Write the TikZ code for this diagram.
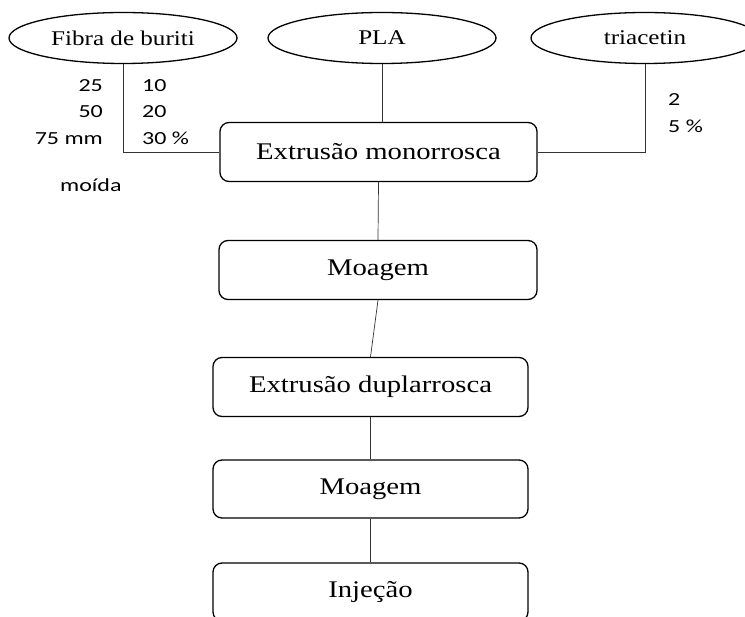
\documentclass[tikz,border=0pt]{standalone}
\usepackage{fontspec}
\setmainfont{Liberation Serif}[FakeStretch=1.2]
\newfontfamily\numfont{Carlito}[FakeStretch=1.3]
\usetikzlibrary{shapes.geometric, positioning}
\tikzset{
	x=1bp, y=-1bp,
	input/.style={ellipse, draw, line width=1.3bp, minimum width=228bp, minimum height=51bp, inner sep=0pt, font=\fontsize{21}{25}\selectfont},
	process/.style={rectangle, rounded corners=9bp, draw, line width=1.3bp, minimum height=59bp, inner sep=0pt, font=\fontsize{24}{28}\selectfont},
	link/.style={draw=black!80, line width=0.7bp},
	amount/.style={inner sep=0pt, font=\numfont\fontsize{18.5}{27}\selectfont}}

\begin{document}
\begin{tikzpicture}
		\useasboundingbox (0,0) rectangle (745,617);
		\node[input] (fib) at (123,38) {Fibra de buriti};
		\node[input] (pla) at (382,38) {PLA};
		\node[input] (tri) at (645,38) {triacetin};
		
		\node[process, minimum width=317bp] (mono) at (378.5,152) {Extrusão monorrosca};
		\node[process, minimum width=318bp] (moa1) at (378,270) {Moagem};
		\node[process, minimum width=315bp] (dupla) at (370.5,387) {Extrusão duplarrosca};
		\node[process, minimum width=315bp, minimum height=58bp] (moa2) at (370.5,489) {Moagem};
		\node[process, minimum width=315bp, minimum height=58bp] (inj) at (370.5,592) {Injeção};
		
		% sizes and contents
		\node[amount, align=right, anchor=east] (fibsize) at (103,112) {25\\50\\75 mm};
		\node[amount, align=left, anchor=west] (fibcont) at (142,112) {10\\20\\30 \%};
		\node[amount, anchor=west] (moida) at (60,185) {moída};
		\node[amount, align=left, anchor=west] (tricont) at (668,113.5) {2\\5 \%};
		
		\draw[link] (fib.south) |- (mono.west);
		\draw[link] (pla.south) -- (pla.south |- mono.north);
		\draw[link] (tri.south) |- (mono.east);
		\draw[link] (mono.south) -- (moa1.north);
		\draw[link] (moa1.south) -- (dupla.north);
		\draw[link] (dupla.south) -- (moa2.north);
		\draw[link] (moa2.south) -- (inj.north);
	\end{tikzpicture}
\end{document}
